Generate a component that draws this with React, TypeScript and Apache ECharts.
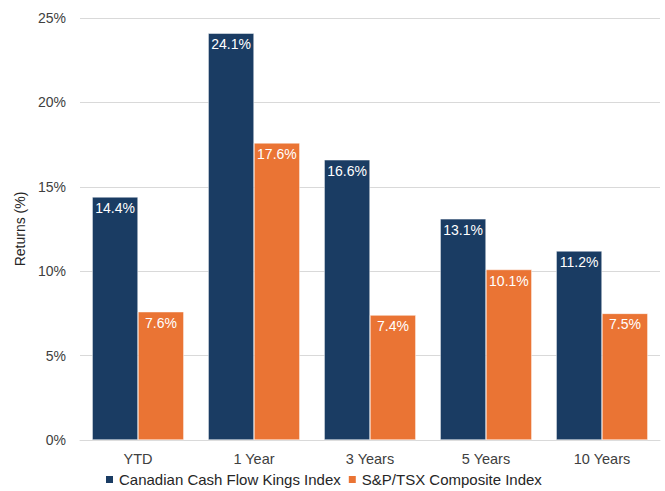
import React, { useEffect, useRef } from "react";
import * as echarts from "echarts";

const categories = ["YTD", "1 Year", "3 Years", "5 Years", "10 Years"];
const cashFlowKings = [14.4, 24.1, 16.6, 13.1, 11.2];
const spTsx = [7.6, 17.6, 7.4, 10.1, 7.5];
const seriesNames = ["Canadian Cash Flow Kings Index", "S&P/TSX Composite Index"];

export default function App() {
  const ref = useRef<HTMLDivElement>(null);
  useEffect(() => {
    if (!ref.current) return;
    const chart = echarts.init(ref.current, undefined, { renderer: "svg" });
    const font = "Liberation Sans, Arial, sans-serif";
    const label = {
      show: true,
      position: "insideTop" as const,
      distance: 4,
      color: "#ffffff",
      fontFamily: font,
      fontSize: 14,
      formatter: (p: any) => p.value.toFixed(1) + "%",
    };
    chart.setOption({
      animation: false,
      textStyle: { fontFamily: font },
      grid: { left: 80, right: 5, top: 18, bottom: 51, containLabel: false },
      legend: {
        top: 472,
        left: 99,
        padding: [0, 5, 0, 5],
        itemWidth: 9,
        itemHeight: 9,
        itemGap: 6,
        icon: "rect",
        textStyle: { color: "#262626", fontSize: 15, fontFamily: font },
        data: seriesNames,
      },
      xAxis: {
        type: "category",
        data: categories,
        axisLine: { lineStyle: { color: "#d9d9d9" } },
        axisTick: { show: false },
        axisLabel: { color: "#404040", fontSize: 14.5, fontFamily: font, margin: 11 },
      },
      yAxis: {
        type: "value",
        min: 0,
        max: 25,
        interval: 5,
        name: "Returns (%)",
        nameLocation: "middle",
        nameGap: 50,
        nameRotate: 90,
        nameTextStyle: { color: "#262626", fontSize: 14, fontFamily: font },
        axisLabel: { formatter: "{value}%", color: "#404040", fontSize: 14, fontFamily: font, margin: 14 },
        splitLine: { lineStyle: { color: "#d9d9d9" } },
        axisLine: { show: false },
        axisTick: { show: false },
      },
      series: [
        {
          name: seriesNames[0],
          type: "bar",
          data: cashFlowKings,
          barGap: "0%",
          barCategoryGap: "21%",
          itemStyle: { color: "#1a3c63", borderColor: "#ffffff", borderWidth: 0.5 },
          label,
        },
        {
          name: seriesNames[1],
          type: "bar",
          data: spTsx,
          itemStyle: { color: "#ea7434", borderColor: "#ffffff", borderWidth: 0.5 },
          label,
        },
      ],
    });
    return () => chart.dispose();
  }, []);
  return <div ref={ref} style={{ width: 665, height: 491, position: "absolute", left: 0, top: 0 }} />;
}
